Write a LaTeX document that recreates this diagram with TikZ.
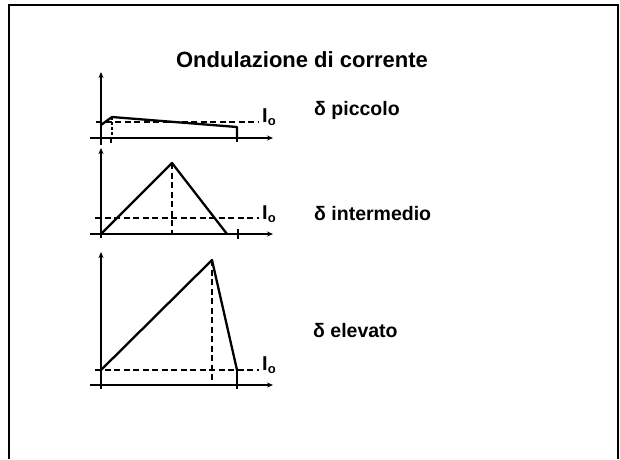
\documentclass[tikz,border=0pt]{standalone}
\usepackage{fontspec}
\setmainfont{Liberation Sans}
\usetikzlibrary{arrows.meta}
\begin{document}
\begin{tikzpicture}[x=1pt,y=-1pt,
  axis/.style={line width=1.8pt,-{Stealth[length=6pt,width=5pt]}},
  wave/.style={line width=2.3pt,line join=round},
  dline/.style={line width=1.7pt,dash pattern=on 6pt off 3.5pt},
  lbl/.style={font=\bfseries\fontsize{19.5}{22}\selectfont,anchor=base west,inner sep=0pt},
  io/.style={font=\bfseries\fontsize{20}{22}\selectfont,anchor=base west,inner sep=0pt}]
\newcommand{\ioText}{I\kern0pt\raisebox{-3pt}{\fontsize{13}{14}\selectfont o}}
\useasboundingbox (0,0) rectangle (620,459);
\draw[line width=2.2pt] (9,459) -- (9,5) -- (618,5) -- (618,459);
\node[font=\bfseries\fontsize{22}{26}\selectfont,anchor=base,inner sep=0pt] (title) at (302,67) {Ondulazione di corrente};
% graph 1
\draw[axis] (101,145) -- (101,72);
\draw[axis] (90,138) -- (273,138);
\draw[line width=1.8pt] (237,134) -- (237,142);
\draw[line width=1.2pt] (111,139) -- (111,143);
\draw[dline] (96,122) -- (259,122);
\draw[line width=1.4pt,dash pattern=on 3pt off 2pt] (112,117) -- (112,138);
\coordinate (a1) at (101,125);
\coordinate (p1) at (112,117);
\coordinate (q1) at (237,127);
\coordinate (b1) at (237,138);
\draw[wave] (a1) -- (p1) -- (q1) -- (b1);
\node[io] (i1) at (262,122) {\ioText};
\node[lbl] (l1) at (314,115) {δ piccolo};
% graph 2
\draw[axis] (101,238) -- (101,148);
\draw[axis] (90,234) -- (273,234);
\draw[line width=1.8pt] (238,229) -- (238,239);
\draw[dline] (95,218) -- (259,218);
\coordinate (a2) at (101,234);
\coordinate (p2) at (172,163);
\coordinate (b2) at (227,234);
\draw[dline] (p2) -- (172,234);
\draw[wave] (a2) -- (p2) -- (b2);
\node[io] (i2) at (262,219) {\ioText};
\node[lbl] (l2) at (314,220) {δ intermedio};
% graph 3
\draw[axis] (101,389) -- (101,252);
\draw[axis] (90,385) -- (273,385);
\draw[dline] (95,370) -- (259,370);
\coordinate (a3) at (101,370);
\coordinate (p3) at (212,260);
\coordinate (b3) at (237,370);
\draw[dline] (p3) -- (212,385);
\draw[line width=1.8pt] (237,370) -- (237,389);
\draw[wave] (a3) -- (p3) -- (b3);
\node[io] (i3) at (262,370) {\ioText};
\node[lbl] (l3) at (313,337) {δ elevato};
\end{tikzpicture}
\end{document}
